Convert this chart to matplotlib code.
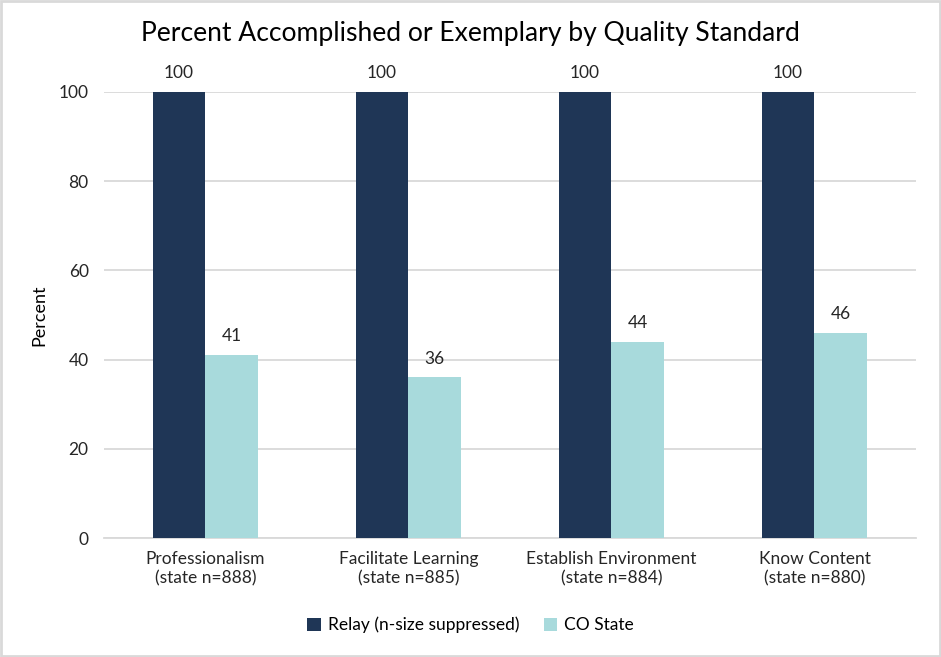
import numpy as np
import matplotlib.pyplot as plt

# Data
categories = ["Professionalism\n(state n=888)", "Facilitate Learning\n(state n=885)",
              "Establish Environment\n(state n=884)", "Know Content\n(state n=880)"]
relay = [100, 100, 100, 100]
co_state = [41, 36, 44, 46]

plt.rcParams['font.family'] = ['Lato', 'DejaVu Sans']

fig = plt.figure(figsize=(9.41, 6.57), dpi=100)
ax = fig.add_axes([0.1105, 0.181, 0.8629, 0.679])

x = np.arange(len(categories))
w = 0.26
b1 = ax.bar(x - w / 2, relay, w, color='#1F3656', label='Relay (n-size suppressed)', zorder=3)
b2 = ax.bar(x + w / 2, co_state, w, color='#A8DADC', label='CO State', zorder=3)

for bars in (b1, b2):
    for rect in bars:
        h = rect.get_height()
        ax.text(rect.get_x() + rect.get_width() / 2, h + 2.4, f"{h:.0f}",
                ha='center', va='bottom', fontsize=12.5, color='#262626')

ax.set_xlim(-0.5, 3.5)
ax.set_ylim(0, 100)
ax.set_yticks(range(0, 101, 20))
ax.set_xticks(x)
ax.set_xticklabels(categories, fontsize=12.5, color='#262626', linespacing=1.25)
ax.tick_params(axis='y', labelsize=12.5, colors='#262626', length=0, pad=11)
ax.tick_params(axis='x', length=0, pad=9)
ax.grid(axis='y', color='#D9D9D9', linewidth=1.3, zorder=0)
for s in ['top', 'right', 'left']:
    ax.spines[s].set_visible(False)
ax.spines['bottom'].set_color('#D9D9D9')
ax.spines['bottom'].set_linewidth(1.3)
ax.set_ylabel("Percent", fontsize=13, color='#000000', labelpad=8)

fig.suptitle("Percent Accomplished or Exemplary by Quality Standard", fontsize=19.1,
             y=0.968, color='#000000')

fig.legend(loc='lower center', ncol=2, frameon=False, fontsize=12.5,
           bbox_to_anchor=(0.5, 0.012), handlelength=0.8, handleheight=0.8,
           columnspacing=1.4, handletextpad=0.4)

border = plt.Rectangle((0.001, 0.001), 0.998, 0.997, transform=fig.transFigure,
                       fill=False, edgecolor='#D9D9D9', linewidth=2)
fig.patches.append(border)

fig.savefig("out.png", dpi=100)
